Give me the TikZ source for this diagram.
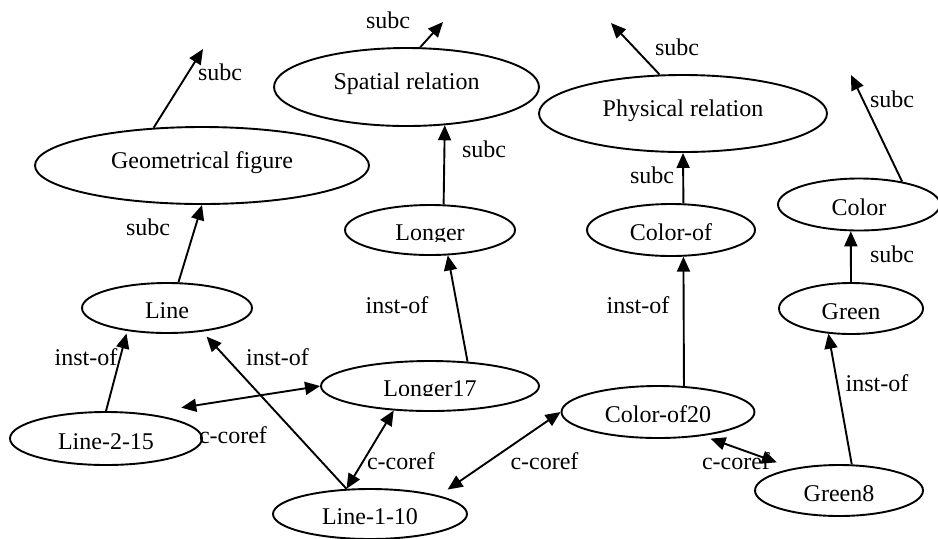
\documentclass[tikz,border=0pt]{standalone}
\usepackage{fontspec}
\setmainfont{Liberation Serif}
\usetikzlibrary{shapes.geometric,arrows.meta}

\tikzset{
  txt/.style={font=\fontsize{12}{14}\selectfont},
  concept/.style={draw, ellipse, line width=.95pt, inner sep=0pt, txt,
    text height=12pt, text depth=1.5pt},
  wide/.style={text height=8pt, text depth=5.5pt},
  tip/.tip={Triangle[length=7.5pt,width=6.5pt]},
  rel/.style={line width=.95pt, -tip},
  coref/.style={line width=.95pt, tip-tip},
  lbl/.style={anchor=base, inner sep=0pt, txt},
  % label whose lower part is cut off at a given depth below the centre
  cut text/.style 2 args={path picture={
    \clip (path picture bounding box.north west) rectangle
          ([yshift=-#2]path picture bounding box.east);
    \node[draw=none, fill=none, inner sep=0pt, txt, text height=12pt, text depth=1.5pt]
      at (path picture bounding box.center) {#1};}}
}

\begin{document}
\begin{tikzpicture}[x=0.5pt, y=-0.5pt]
\useasboundingbox (0,0) rectangle (938,538);

% concepts
\node[concept, wide, minimum width=167pt, minimum height=38.5pt] (gf) at (202,165.5) {Geometrical figure};
\node[concept, wide, minimum width=132.5pt, minimum height=39pt] (sr) at (406.5,87) {Spatial relation};
\node[concept, wide, minimum width=144pt, minimum height=38.5pt] (pr) at (683,113.5) {Physical relation};
\node[concept, minimum width=81pt, minimum height=26pt] (color) at (859,204.5) {Color};
\node[concept, minimum width=84pt, minimum height=26pt] (colorof) at (671,230) {Color-of};
\node[concept, minimum width=85pt, minimum height=25pt, cut text={Longer}{5.5pt}] (longer) at (430,230) {};
\node[concept, minimum width=85pt, minimum height=25pt] (line) at (167,308) {Line};
\node[concept, minimum width=72pt, minimum height=25.5pt] (green) at (851,308.5) {Green};
\node[concept, minimum width=109pt, minimum height=25pt, cut text={Longer17}{4.5pt}] (longer17) at (430,386) {};
\node[concept, minimum width=96.5pt, minimum height=26pt] (colorof20) at (658,412) {Color-of20};
\node[concept, minimum width=96pt, minimum height=26.5pt] (line215) at (106,438.5) {Line-2-15};
\node[concept, minimum width=84pt, minimum height=25.5pt] (green8) at (839,490.5) {Green8};
\node[concept, minimum width=97pt, minimum height=25pt] (line110) at (370,514) {Line-1-10};

% free ends of the outgoing subc links
\coordinate (gfup) at (203,49);
\coordinate (srup) at (443,22);
\coordinate (prup) at (611,23);
\coordinate (colorup) at (851,75);

% edge labels
\node[lbl] (l1) at (220,80) {subc};
\node[lbl] (l2) at (388,28) {subc};
\node[lbl] (l3) at (677,55) {subc};
\node[lbl] (l4) at (892,107) {subc};
\node[lbl] (l5) at (484,157) {subc};
\node[lbl] (l6) at (148,235) {subc};
\node[lbl] (l7) at (652,183) {subc};
\node[lbl] (l8) at (892,262) {subc};
\node[lbl] (l9) at (86,365) {inst-of};
\node[lbl] (l10) at (277.5,365) {inst-of};
\node[lbl] (l11) at (397,313) {inst-of};
\node[lbl] (l12) at (638,313) {inst-of};
\node[lbl] (l13) at (877,391) {inst-of};
\node[lbl] (l14) at (233,443) {c-coref};
\node[lbl] (l15) at (401,469) {c-coref};
\node[lbl] (l16) at (544.5,469) {c-coref};
\node[lbl] (l17) at (736,469) {c-coref};

% subc links
\draw[rel] (gf.142) -- (gfup);
\draw[rel] (sr.71.5) -- (srup);
\draw[rel] (pr.121.7) -- (prup);
\draw[rel] (color.28.6) -- (colorup);
\draw[rel] (longer.62.2) -- (sr.-45.8);
\draw[rel] (line.66.1) -- (gf.south);
\draw[rel] (colorof.65) -- (pr.south);
\draw[rel] (green.north) -- (color.-107);

% inst-of links
\draw[rel, shorten >=1.3pt] (line215.north) -- (line.-150);
\draw[rel, shorten >=3.3pt] (line110.133) -- (line.-34.6);
\draw[rel] (longer17.33) -- (longer.-55);
\draw[rel] (colorof20.45) -- (colorof.-65);
\draw[rel] (green8.64.5) -- (green.-132);

% c-coref links
\draw[coref, shorten <=18.5pt] (line215.33.5) -- (longer17.west);
\draw[coref] (line110.133) -- (longer17.-146);
\draw[coref, shorten <=5.3pt] (line110.15) -- (colorof20.west);
\draw[coref, shorten <=4pt, shorten >=8.7pt] (colorof20.-28.7) -- (green8.154);
\end{tikzpicture}
\end{document}
